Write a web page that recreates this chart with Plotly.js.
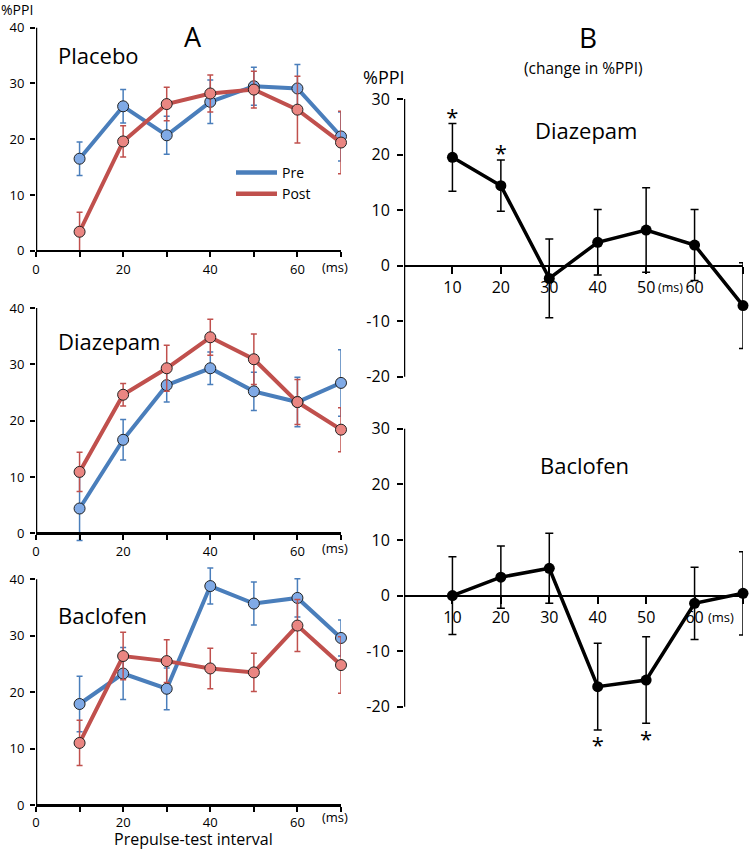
<!DOCTYPE html>
<html>
<head>
<meta charset="utf-8">
<script src="https://cdn.plot.ly/plotly-3.0.1.min.js"></script>
<style>
  html, body { margin: 0; padding: 0; background: #fff; }
  #chart { width: 752px; height: 851px; }
</style>
</head>
<body>
<div id="chart"></div>
<script>
// intervals (ms)
const intervals = [10, 20, 30, 40, 50, 60, 70];

// Panel A: %PPI before / after drug
const placeboPre = [16.5, 25.9, 20.7, 26.7, 29.5, 29.1, 20.5];
const placeboPreErr = [3.0, 3.0, 3.4, 3.9, 3.4, 4.3, 4.4];
const placeboPost = [3.4, 19.6, 26.3, 28.2, 28.9, 25.3, 19.4];
const placeboPostErr = [3.5, 2.8, 3.0, 3.3, 3.3, 6.0, 5.6];

const diazepamPre = [4.4, 16.6, 26.3, 29.3, 25.2, 23.3, 26.7];
const diazepamPreErr = [5.7, 3.6, 3.0, 2.9, 3.4, 4.4, 5.9];
const diazepamPost = [10.9, 24.6, 29.3, 34.8, 30.9, 23.3, 18.4];
const diazepamPostErr = [3.5, 2.0, 4.1, 3.2, 4.5, 4.0, 3.9];

const baclofenPre = [17.9, 23.3, 20.6, 38.8, 35.7, 36.7, 29.6];
const baclofenPreErr = [4.9, 4.6, 3.7, 3.2, 3.8, 3.4, 3.2];
const baclofenPost = [11.0, 26.4, 25.5, 24.2, 23.5, 31.8, 24.8];
const baclofenPostErr = [4.0, 4.2, 3.8, 3.6, 3.4, 4.6, 5.0];

// Panel B: change in %PPI
const diazepamChange = [19.5, 14.4, -2.3, 4.2, 6.4, 3.7, -7.2];
const diazepamChangeErr = [6.1, 4.6, 7.1, 5.9, 7.6, 6.4, 7.7];
const baclofenChange = [0.0, 3.3, 4.9, -16.4, -15.2, -1.4, 0.4];
const baclofenChangeErr = [7.0, 5.6, 6.3, 7.8, 7.8, 6.5, 7.5];

// significance stars
const diazepamStarX = [10, 20];
const diazepamStarY = [26.3, 19.9];
const baclofenStarX = [40, 50];
const baclofenStarY = [-27.4, -26.3];

// tick labels
const aTickVals = [0, 10, 20, 30, 40, 50, 60, 70];
const aTickText = ['0', '', '20', '', '40', '', '60', ''];
const aYTicks = [0, 10, 20, 30, 40];
const bTickVals = [10, 20, 30, 40, 50, 60, 70];
const bTickText = ['10', '20', '30', '40', '50', '60', ''];
const bYTicks = [-20, -10, 0, 10, 20, 30];
const bYText = ['-20', '-10', '0', '10', '20', '30'];

const W = 752, H = 851;
const FONT = '"Open Sans", sans-serif';
const BLUE = '#4a7ebb', BLUE_FILL = '#80aae6';
const RED = '#c0504d', RED_FILL = '#ea8682';

// pixel -> paper helpers
const px = x => x / W;
const py = y => 1 - y / H;

// domain for a padded range, keeping the pixel scale of the drawn axis
function yDomain(pxTop, pxBottom, vTop, vBottom, range) {
    const k = (pxBottom - pxTop) / (vTop - vBottom);
    const top = pxTop - (range[1] - vTop) * k;
    const bottom = pxBottom + (vBottom - range[0]) * k;
    return [py(bottom), py(top)];
}

function prePostTraces(n, pre, preErr, post, postErr) {
    const mk = (y, err, line, fill) => ({
        x: intervals, y: y,
        xaxis: 'x' + n, yaxis: 'y' + n,
        type: 'scatter', mode: 'lines+markers',
        showlegend: false, cliponaxis: false,
        line: { color: line, width: 4 },
        marker: { size: 11, color: fill, line: { color: '#222', width: 1 } },
        error_y: { type: 'data', array: err, visible: true, color: line, thickness: 1.5, width: 3 }
    });
    return [mk(pre, preErr, BLUE, BLUE_FILL), mk(post, postErr, RED, RED_FILL)];
}

function changeTraces(n, y, err, starX, starY) {
    return [{
        x: intervals, y: y,
        xaxis: 'x' + n, yaxis: 'y' + n,
        type: 'scatter', mode: 'lines+markers',
        showlegend: false, cliponaxis: false,
        line: { color: '#000', width: 3.5 },
        marker: { size: 11, color: '#000' },
        error_y: { type: 'data', array: err, visible: true, color: '#000', thickness: 1.5, width: 4 }
    }, {
        x: starX, y: starY,
        xaxis: 'x' + n, yaxis: 'y' + n,
        type: 'scatter', mode: 'text', text: starX.map(() => '*'),
        textfont: { size: 22, color: '#000000', family: FONT },
        showlegend: false, cliponaxis: false, hoverinfo: 'skip'
    }];
}

const data = [
    ...prePostTraces(1, placeboPre, placeboPreErr, placeboPost, placeboPostErr),
    ...prePostTraces(2, diazepamPre, diazepamPreErr, diazepamPost, diazepamPostErr),
    ...prePostTraces(3, baclofenPre, baclofenPreErr, baclofenPost, baclofenPostErr),
    ...changeTraces(4, diazepamChange, diazepamChangeErr, diazepamStarX, diazepamStarY),
    ...changeTraces(5, baclofenChange, baclofenChangeErr, baclofenStarX, baclofenStarY),
    // legend entries (lines only)
    { x: [null], y: [null], type: 'scatter', mode: 'lines', name: 'Pre', line: { color: BLUE, width: 4.5 } },
    { x: [null], y: [null], type: 'scatter', mode: 'lines', name: 'Post', line: { color: RED, width: 4.5 } }
];

const axisBase = {
    showgrid: false, zeroline: false,
    linecolor: '#000', linewidth: 2.5,
    ticks: 'outside', tickcolor: '#000', tickwidth: 2,
    fixedrange: true
};

// x axis drawn where y = 0
function zeroPos(yax) {
    const frac = (0 - yax.range[0]) / (yax.range[1] - yax.range[0]);
    return yax.domain[0] + frac * (yax.domain[1] - yax.domain[0]);
}

function aY(top, bottom) {
    const range = [-3, 43];
    return Object.assign({}, axisBase, {
        domain: yDomain(top, bottom, 40, 0, range), range: range, showline: false,
        tickmode: 'array', tickvals: aYTicks,
        ticklen: 5, ticklabelstandoff: 3,
        tickfont: { size: 13, color: '#000', family: FONT }
    });
}
function aX(n, yax, standoff) {
    return Object.assign({}, axisBase, {
        domain: [px(36), px(341)], anchor: 'free', position: zeroPos(yax), range: [0, 70],
        showline: true,
        tickmode: 'array', tickvals: aTickVals, ticktext: aTickText,
        ticklen: 5, ticklabelstandoff: standoff,
        tickfont: { size: 13, color: '#000', family: FONT }
    });
}
function bY(top, bottom) {
    const range = [-30, 31];
    return Object.assign({}, axisBase, {
        domain: yDomain(top, bottom, 30, -20, range), range: range, showline: false,
        tickmode: 'array', tickvals: bYTicks, ticktext: bYText,
        ticklen: 6, ticklabelstandoff: 4,
        tickfont: { size: 16, color: '#000', family: FONT }
    });
}
function bX(n, yax) {
    return Object.assign({}, axisBase, {
        domain: [px(404), px(743)], anchor: 'free', position: zeroPos(yax), range: [0, 70],
        showline: true,
        tickmode: 'array', tickvals: bTickVals, ticktext: bTickText,
        ticklen: 7, ticklabelstandoff: 0,
        tickfont: { size: 16, color: '#000', family: FONT }
    });
}

const y1 = aY(27.7, 250.7), y2 = aY(308, 533.3), y3 = aY(579.3, 805);
const y4 = bY(99, 376.7), y5 = bY(428.8, 706.7);

// vertical axis lines, limited to the labelled span
function yLine(n, lo, hi) {
    return {
        type: 'line', xref: 'x' + n, yref: 'y' + n,
        x0: 0, x1: 0, y0: lo, y1: hi,
        line: { color: '#000', width: 2.5 }
    };
}

function txt(text, x, y, size, xanchor, yanchor) {
    return {
        text: text, xref: 'paper', yref: 'paper', x: px(x), y: py(y),
        xanchor: xanchor || 'center', yanchor: yanchor || 'middle', showarrow: false,
        borderpad: 0,
        font: { size: size, color: '#000', family: FONT }
    };
}

const layout = {
    width: W, height: H,
    margin: { l: 0, r: 0, t: 0, b: 0 },
    paper_bgcolor: '#fff', plot_bgcolor: 'rgba(0,0,0,0)',
    font: { family: FONT, color: '#000' },
    xaxis: aX(1, y1, 1), yaxis: Object.assign(y1, { anchor: 'x' }),
    xaxis2: aX(2, y2, 1), yaxis2: Object.assign(y2, { anchor: 'x2' }),
    xaxis3: aX(3, y3, 0), yaxis3: Object.assign(y3, { anchor: 'x3' }),
    xaxis4: bX(4, y4), yaxis4: Object.assign(y4, { anchor: 'x4' }),
    xaxis5: bX(5, y5), yaxis5: Object.assign(y5, { anchor: 'x5' }),
    shapes: [
        yLine('', 0, 40), yLine(2, 0, 40), yLine(3, 0, 40),
        yLine(4, -20, 30), yLine(5, -20, 30)
    ],
    showlegend: true,
    legend: {
        x: px(231), y: py(157), xanchor: 'left', yanchor: 'top',
        bgcolor: 'rgba(0,0,0,0)', tracegroupgap: 0, itemwidth: 41,
        font: { size: 14, color: '#000', family: FONT }
    },
    annotations: [
        txt('%PPI', 0, 10, 14, 'left'),
        txt('A', 193, 37, 27),
        txt('Placebo', 57, 55, 22, 'left'),
        txt('(ms)', 335, 267, 13),
        txt('Diazepam', 57, 341, 22, 'left'),
        txt('(ms)', 335, 548, 13),
        txt('Baclofen', 57, 615, 22, 'left'),
        txt('(ms)', 335, 817, 13),
        txt('Prepulse-test interval', 193, 851, 16, 'center', 'bottom'),
        txt('B', 588, 37, 28),
        txt('(change in %PPI)', 583, 68, 15.5),
        txt('%PPI', 384, 77, 18),
        txt('Diazepam', 586, 130, 22),
        txt('(ms)', 670, 287, 12.5),
        txt('Baclofen', 584, 465, 22),
        txt('(ms)', 721, 617, 13)
    ]
};

Plotly.newPlot('chart', data, layout, { displayModeBar: false, staticPlot: true });
</script>
</body>
</html>
